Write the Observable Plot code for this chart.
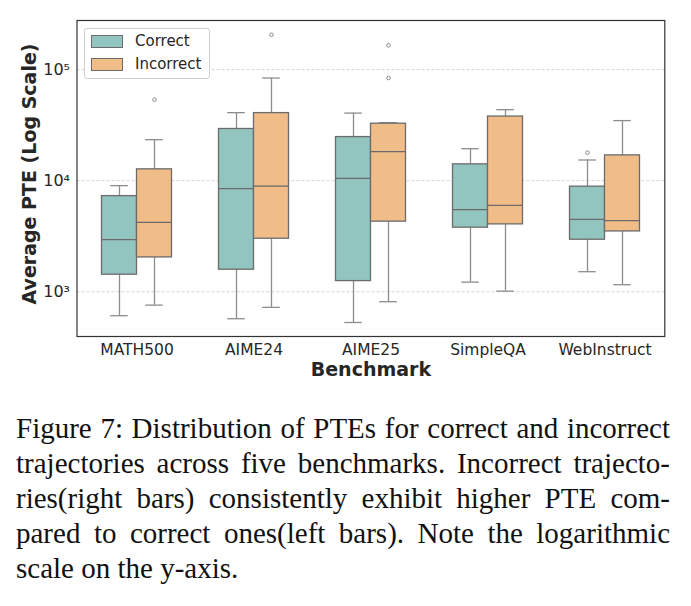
<!DOCTYPE html>
<html>
<head>
<meta charset="utf-8">
<script src="https://cdn.jsdelivr.net/npm/d3@7"></script>
<script src="https://cdn.jsdelivr.net/npm/@observablehq/plot@0.6"></script>
<style>
  html, body { margin: 0; padding: 0; background: #fff; }
  #wrap { position: relative; width: 691px; }
  #legend {
    position: absolute; left: 84px; top: 28px; width: 124px; height: 49px;
    border: 1px solid #cfcfcf; border-radius: 3px; background: rgba(255,255,255,0.85);
    font-family: "DejaVu Sans", sans-serif; font-size: 15px; color: #262626;
  }
  .sw { position: absolute; left: 6px; width: 30px; height: 11px; border: 1px solid #6b6b6b; }
  .lt { position: absolute; left: 50px; white-space: nowrap; }
  #caption {
    margin: 21px 0 0 16px; width: 654px;
    font-family: "Liberation Serif", "Times New Roman", serif; font-size: 29px; line-height: 35px; color: #111;
  }
  #caption span { display: block; text-align: justify; text-align-last: justify; white-space: nowrap; }
  #caption span.last { text-align-last: left; }
</style>
</head>
<body>
<div id="wrap">
  <div id="chart"></div>
  <div id="legend"></div>
  <div id="caption"></div>
</div>
<script>
const benchmarks = ["MATH500", "AIME24", "AIME25", "SimpleQA", "WebInstruct"];
const groups = ["Correct", "Incorrect"];
const groupColors = ["#93c5c0", "#f0bc88"];

const correctLow  = [608, 571, 528, 1220, 1514];
const correctQ1   = [1423, 1578, 1246, 3774, 2940];
const correctMed  = [2940, 8470, 10500, 5480, 4480];
const correctQ3   = [7260, 29200, 24700, 14030, 8830];
const correctHigh = [9020, 41000, 40600, 19400, 15350];

const incorrectLow  = [757, 723, 813, 1012, 1156];
const incorrectQ1   = [2036, 3000, 4275, 4040, 3490];
const incorrectMed  = [4210, 8940, 18240, 5985, 4360];
const incorrectQ3   = [12650, 40600, 32600, 37800, 16900];
const incorrectHigh = [23400, 84000, 33300, 43600, 34750];

const correctOutlierBench = ["WebInstruct"];
const correctOutlierValue = [17870];
const incorrectOutlierBench = ["MATH500", "AIME24", "AIME25", "AIME25"];
const incorrectOutlierValue = [53700, 206000, 165600, 84000];

const yTicks = [1e3, 1e4, 1e5];
const yTickLabels = ["10³", "10⁴", "10⁵"];

const captionLines = [
  "Figure 7: Distribution of PTEs for correct and incorrect",
  "trajectories across five benchmarks. Incorrect trajecto-",
  "ries(right bars) consistently exhibit higher PTE com-",
  "pared to correct ones(left bars). Note the logarithmic",
  "scale on the y-axis."
];

function stats(low, q1, med, q3, high) {
  return benchmarks.map((b, i) => ({bench: b, low: low[i], q1: q1[i], med: med[i], q3: q3[i], high: high[i]}));
}
const correct = stats(correctLow, correctQ1, correctMed, correctQ3, correctHigh);
const incorrect = stats(incorrectLow, incorrectQ1, incorrectMed, incorrectQ3, incorrectHigh);
const correctOut = correctOutlierBench.map((b, i) => ({bench: b, v: correctOutlierValue[i]}));
const incorrectOut = incorrectOutlierBench.map((b, i) => ({bench: b, v: incorrectOutlierValue[i]}));

const W = 691, H = 390, mL = 76.5, mR = 26.7, mT = 20, mB = 54;
const step = (W - mL - mR) / benchmarks.length;
const boxW = 35;
const pInner = 1 - boxW / step;
const half = boxW / 2;
const edge = "#6b6b6b", whisk = "#8c8c8c";

function boxMarks(data, out, color, dx) {
  return [
    Plot.ruleX(data, {x: "bench", y1: "low", y2: "q1", dx, stroke: whisk, strokeWidth: 1.3}),
    Plot.ruleX(data, {x: "bench", y1: "q3", y2: "high", dx, stroke: whisk, strokeWidth: 1.3}),
    Plot.tickY(data, {x: "bench", y: "low", dx, stroke: whisk, strokeWidth: 1.3, insetLeft: boxW / 4, insetRight: boxW / 4}),
    Plot.tickY(data, {x: "bench", y: "high", dx, stroke: whisk, strokeWidth: 1.3, insetLeft: boxW / 4, insetRight: boxW / 4}),
    Plot.barY(data, {x: "bench", y1: "q1", y2: "q3", dx, fill: color, stroke: edge, strokeWidth: 1.3}),
    Plot.tickY(data, {x: "bench", y: "med", dx, stroke: edge, strokeWidth: 1.3}),
    Plot.dot(out, {x: "bench", y: "v", dx, r: 1.8, stroke: "#888", strokeWidth: 1, fill: "none"})
  ];
}

const chart = Plot.plot({
  width: W, height: H,
  marginLeft: mL, marginRight: mR, marginTop: mT, marginBottom: mB,
  style: {fontFamily: "DejaVu Sans, sans-serif", fontSize: "15px", color: "#262626", background: "#fff"},
  x: {type: "band", domain: benchmarks, paddingInner: pInner, paddingOuter: pInner / 2, axis: null},
  y: {type: "log", domain: [395, 277000], axis: null},
  marks: [
    Plot.gridY(yTicks, {stroke: "#c8c8c8", strokeOpacity: 1, strokeWidth: 0.8, strokeDasharray: "3,2"}),
    ...boxMarks(correct, correctOut, groupColors[0], -half),
    ...boxMarks(incorrect, incorrectOut, groupColors[1], half),
    Plot.frame({stroke: "#333", strokeWidth: 1.2}),
    Plot.axisY(yTicks, {tickSize: 0, tickPadding: 7, tickFormat: (d) => yTickLabels[yTicks.indexOf(d)], label: null, fontSize: 16}),
    Plot.axisX(benchmarks, {tickSize: 0, tickPadding: 7, label: null, fontSize: 15.5}),
    Plot.text(["Average PTE (Log Scale)"], {text: d => d, frameAnchor: "left", textAnchor: "middle", lineAnchor: "middle", rotate: -90, dx: -47.5, dy: -4.5, fontWeight: "bold", fontSize: 19, fill: "#262626"}),
    Plot.text(["Benchmark"], {text: d => d, frameAnchor: "bottom", textAnchor: "middle", lineAnchor: "middle", dy: 33, fontWeight: "bold", fontSize: 19, fill: "#262626"})
  ]
});
document.getElementById("chart").appendChild(chart);

const legend = document.getElementById("legend");
groups.forEach((g, i) => {
  const top = i === 0 ? 5 : 28;
  const sw = document.createElement("div");
  sw.className = "sw";
  sw.style.top = (top + 1) + "px";
  sw.style.background = groupColors[i];
  legend.appendChild(sw);
  const t = document.createElement("div");
  t.className = "lt";
  t.style.top = (top - 2) + "px";
  t.style.lineHeight = "18px";
  t.textContent = g;
  legend.appendChild(t);
});

const cap = document.getElementById("caption");
captionLines.forEach((line, i) => {
  const s = document.createElement("span");
  s.textContent = line;
  if (i === captionLines.length - 1) s.className = "last";
  cap.appendChild(s);
});
</script>
</body>
</html>
